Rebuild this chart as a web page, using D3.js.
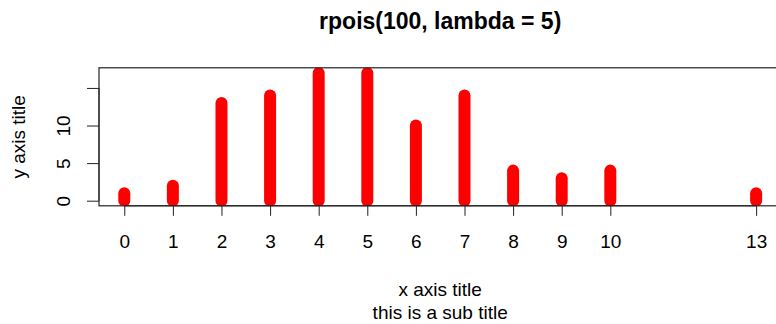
<!DOCTYPE html>
<html>
<head>
<meta charset="utf-8">
<script src="https://cdn.jsdelivr.net/npm/d3@7"></script>
<style>
  html, body { margin: 0; padding: 0; background: #fff; }
  svg { display: block; font-family: "Liberation Sans", Arial, Helvetica, sans-serif; }
</style>
</head>
<body>
<svg id="chart" width="776" height="324"></svg>
<script>
// Observed counts from rpois(100, lambda = 5)
const values = [0, 1, 2, 3, 4, 5, 6, 7, 8, 9, 10, 13];
const counts = [1, 2, 13, 14, 17, 17, 10, 14, 4, 3, 4, 1];
const xTickLabels = ["0", "1", "2", "3", "4", "5", "6", "7", "8", "9", "10", "13"];
const yTicks = [0, 5, 10, 15];
const yTickLabels = ["0", "5", "10", ""];

const titleText = "rpois(100, lambda = 5)";
const xTitle = "x axis title";
const yTitle = "y axis title";
const subTitle = "this is a sub title";

const svg = d3.select("#chart");
const plot = { left: 99, right: 781.4, top: 67.8, bottom: 205.8 };
const fontAxis = 19;
const fontMain = 23;

// Axis ranges padded by 4% as in base graphics
const xPad = (d3.max(values) - d3.min(values)) * 0.04;
const yPad = (d3.max(counts) - 0) * 0.04;
const x = d3.scaleLinear()
  .domain([d3.min(values) - xPad, d3.max(values) + xPad])
  .range([plot.left, plot.right]);
const y = d3.scaleLinear()
  .domain([0 - yPad, d3.max(counts) + yPad])
  .range([plot.bottom, plot.top]);

svg.append("defs").append("clipPath").attr("id", "plotclip")
  .append("rect")
  .attr("x", plot.left).attr("y", plot.top)
  .attr("width", plot.right - plot.left).attr("height", plot.bottom - plot.top);

// Histogram-like vertical lines with round ends
svg.append("g").attr("clip-path", "url(#plotclip)")
  .selectAll("line").data(values).join("line")
  .attr("x1", d => x(d)).attr("x2", d => x(d))
  .attr("y1", y(0))
  .attr("y2", (d, i) => y(counts[i]))
  .attr("stroke", "#ff0000")
  .attr("stroke-width", 12)
  .attr("stroke-linecap", "round");

// Plot frame
svg.append("rect")
  .attr("x", plot.left).attr("y", plot.top)
  .attr("width", plot.right - plot.left).attr("height", plot.bottom - plot.top)
  .attr("fill", "none").attr("stroke", "#222").attr("stroke-width", 1.2);

// X axis
const xAxis = d3.axisBottom(x)
  .tickValues(values)
  .tickFormat((d, i) => xTickLabels[i])
  .tickSize(10).tickPadding(0);
const gx = svg.append("g").attr("transform", `translate(0,${plot.bottom})`).call(xAxis);
gx.select(".domain").attr("d", `M${x(values[0])},0H${x(values[values.length - 1])}`)
  .attr("stroke", "#222");
gx.selectAll(".tick line").attr("stroke", "#222");
gx.selectAll(".tick text").attr("font-size", fontAxis).attr("fill", "#000")
  .attr("font-family", "Liberation Sans, Arial, sans-serif")
  .attr("y", 248 - plot.bottom).attr("dy", null);

// Y axis
const yAxis = d3.axisLeft(y)
  .tickValues(yTicks)
  .tickFormat((d, i) => yTickLabels[i])
  .tickSize(12).tickPadding(0);
const gy = svg.append("g").attr("transform", `translate(${plot.left},0)`).call(yAxis);
gy.select(".domain").attr("d", `M0,${y(yTicks[0])}V${y(yTicks[yTicks.length - 1])}`)
  .attr("stroke", "#222");
gy.selectAll(".tick line").attr("stroke", "#222");
gy.selectAll(".tick text")
  .attr("font-size", fontAxis).attr("fill", "#000")
  .attr("font-family", "Liberation Sans, Arial, sans-serif")
  .attr("x", null).attr("dy", null)
  .attr("text-anchor", "middle")
  .attr("transform", `translate(${70 - plot.left},0) rotate(-90)`);

// Titles
const cx = (plot.left + plot.right) / 2;
svg.append("text").attr("x", cx).attr("y", 29)
  .attr("text-anchor", "middle").attr("font-size", fontMain).attr("font-weight", "bold")
  .text(titleText);
svg.append("text").attr("x", cx).attr("y", 296)
  .attr("text-anchor", "middle").attr("font-size", fontAxis)
  .text(xTitle);
svg.append("text").attr("x", cx).attr("y", 319)
  .attr("text-anchor", "middle").attr("font-size", fontAxis)
  .text(subTitle);
svg.append("text")
  .attr("transform", `translate(25,${(plot.top + plot.bottom) / 2}) rotate(-90)`)
  .attr("text-anchor", "middle").attr("font-size", fontAxis)
  .text(yTitle);
</script>
</body>
</html>
